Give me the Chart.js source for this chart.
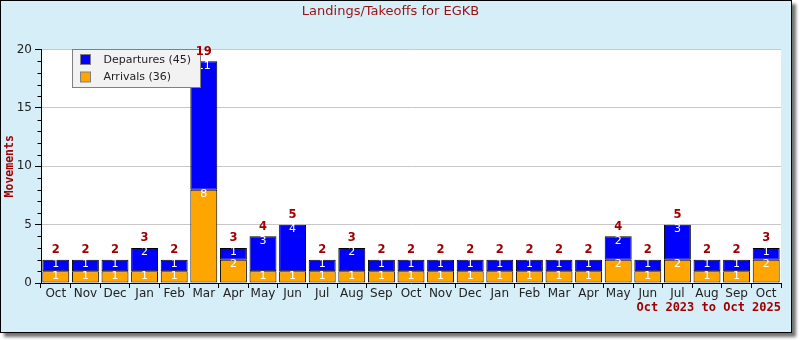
<!DOCTYPE html>
<html>
<head>
<meta charset="utf-8">
<script src="https://cdn.jsdelivr.net/npm/chart.js@4"></script>
<style>
  html, body { margin: 0; padding: 0; background: #fff; }
  #wrap { position: relative; width: 800px; height: 340px; }
  #frame { position: absolute; left: 0; top: 0; width: 790px; height: 331px; border: 1px solid #000;
           background: #d6eef8; box-shadow: 4px 4px 3px rgba(0,0,0,.55); }
  #c { position: absolute; left: 0; top: 0; }
</style>
</head>
<body>
<div id="wrap"><div id="frame"></div><canvas id="c" width="800" height="340"></canvas></div>
<script>
// Bevegelser per måned, okt 2023 – okt 2025
const months = ["Oct","Nov","Dec","Jan","Feb","Mar","Apr","May","Jun","Jul","Aug","Sep",
                "Oct","Nov","Dec","Jan","Feb","Mar","Apr","May","Jun","Jul","Aug","Sep","Oct"];
const arrivals   = [1,1,1,1,1,8,2,1,1,1,1,1,1,1,1,1,1,1,1,2,1,2,1,1,2];
const departures = [1,1,1,2,1,11,1,3,4,1,2,1,1,1,1,1,1,1,1,2,1,3,1,1,1];
const yMajor = [0, 5, 10, 15, 20];
const period = "Oct 2023 to Oct 2025";

const RED = "#a00000";
const sum = (a) => a.reduce((s, v) => s + v, 0);

// hvit plottflate
const plotBg = {
  id: "plotBg",
  beforeDraw(chart) {
    const { ctx, chartArea: a } = chart;
    ctx.save(); ctx.fillStyle = "#fff"; ctx.fillRect(a.left, a.top, a.right - a.left, a.bottom - a.top); ctx.restore();
  },
};

// verdier i søylene, legende, totaler og små y-ticks
const overlay = {
  id: "overlay",
  afterDatasetsDraw(chart) {
    const { ctx, chartArea: a } = chart;
    const metas = chart.data.datasets.map((d, i) => chart.getDatasetMeta(i));
    ctx.save();
    // små ticks
    const ys = chart.scales.y;
    ctx.strokeStyle = "#000"; ctx.lineWidth = 1;
    ctx.beginPath();
    for (let v = ys.min; v <= ys.max; v++) {
      if (yMajor.includes(v)) continue;
      const y = Math.round(ys.getPixelForValue(v)) + 0.5;
      ctx.moveTo(a.left - 3.5, y); ctx.lineTo(a.left, y);
    }
    ctx.stroke();
    // verdier
    ctx.font = '11px "DejaVu Sans"'; ctx.fillStyle = "#fff"; ctx.textAlign = "center"; ctx.textBaseline = "middle";
    metas.forEach((m, di) => m.data.forEach((bar, i) => {
      const v = chart.data.datasets[di].data[i];
      if (v) ctx.fillText(String(v), bar.x, bar.y + 4.5);
    }));
    // legende (Departures først)
    const lx = 72.5, ly = 49.5;
    ctx.fillStyle = "#f2f2f2"; ctx.strokeStyle = "#808080";
    ctx.fillRect(lx, ly, 128, 38); ctx.strokeRect(lx, ly, 128, 38);
    const items = chart.data.datasets.slice().reverse();
    ctx.font = '11px "DejaVu Sans"'; ctx.textAlign = "left";
    items.forEach((d, i) => {
      const y = ly + 5 + i * 17.5;
      ctx.fillStyle = d.backgroundColor; ctx.fillRect(lx + 8, y, 10, 10); ctx.strokeRect(lx + 8, y, 10, 10);
      ctx.fillStyle = "#222"; ctx.fillText(d.label, lx + 31, y + 5.5);
    });
    // totaler
    ctx.font = 'bold 11.5px "DejaVu Sans"'; ctx.fillStyle = RED; ctx.textAlign = "center";
    months.forEach((_, i) => {
      const top = Math.min(...metas.map((m) => m.data[i].y));
      ctx.fillText(String(arrivals[i] + departures[i]), metas[0].data[i].x, top - 9.5);
    });
    ctx.restore();
  },
};

new Chart(document.getElementById("c"), {
  type: "bar",
  data: {
    labels: months,
    datasets: [
      { label: `Arrivals (${sum(arrivals)})`, data: arrivals, backgroundColor: "#ffa500", borderColor: "#000", borderWidth: 1, borderSkipped: false },
      { label: `Departures (${sum(departures)})`, data: departures, backgroundColor: "#0000ff", borderColor: "#000", borderWidth: 1, borderSkipped: false },
    ],
  },
  options: {
    responsive: false, animation: false, devicePixelRatio: 1,
    datasets: { bar: { barPercentage: 0.91, categoryPercentage: 1 } },
    layout: { padding: { top: 0, right: 19, bottom: 0, left: 0 } },
    plugins: {
      legend: { display: false },
      tooltip: { enabled: false },
      title: { display: true, text: "Landings/Takeoffs for EGKB", color: "#991111",
               font: { family: "DejaVu Sans", size: 13, weight: "normal" }, padding: { top: 4, bottom: 30 } },
    },
    scales: {
      x: {
        stacked: true,
        grid: { offset: true, drawOnChartArea: false, tickLength: 5, tickColor: "#000" },
        border: { color: "#000" },
        ticks: { color: "#222", font: { family: "DejaVu Sans", size: 12 }, padding: -1, maxRotation: 0, autoSkip: false },
        title: { display: true, text: period, align: "end", color: RED,
                 font: { family: "DejaVu Sans Mono", size: 12, weight: "bold" }, padding: { top: 0, bottom: 25 } },
        afterFit(s) { s.height = 57; },
      },
      y: {
        stacked: true, min: 0, max: 20,
        ticks: { stepSize: 1, maxTicksLimit: 21, autoSkip: false, color: "#222", padding: 3,
                 font: { family: "DejaVu Sans", size: 12 },
                 callback: (v) => (yMajor.includes(v) ? v : "") },
        grid: {
          color: (c) => (c.tick && c.tick.value > 0 && yMajor.includes(c.tick.value) ? "#c8c8c8" : "rgba(0,0,0,0)"),
          tickColor: (c) => (c.tick && yMajor.includes(c.tick.value) ? "#000" : "rgba(0,0,0,0)"),
          tickLength: 6,
        },
        border: { color: "#000" },
        title: { display: true, text: "Movements", color: RED,
                 font: { family: "DejaVu Sans Mono", size: 11.5, weight: "bold" }, padding: { top: 3, bottom: 0 } },
        afterFit(s) { s.width = 41; },
      },
    },
  },
  plugins: [plotBg, overlay],
});
</script>
</body>
</html>
